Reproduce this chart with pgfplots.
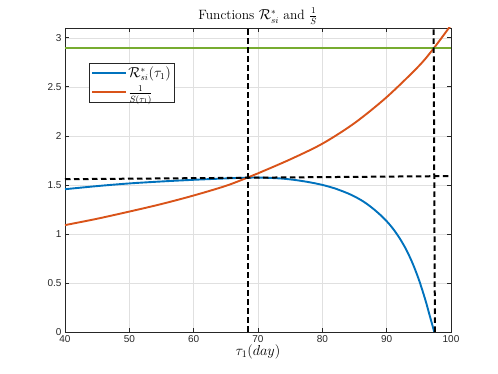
\documentclass[border=0pt]{standalone}
\usepackage{fontspec}
\setsansfont{Liberation Sans}
\usepackage{pgfplots}
\pgfplotsset{compat=1.18}

\definecolor{mblue}{rgb}{0,0.447,0.741}
\definecolor{morange}{rgb}{0.850,0.325,0.098}
\definecolor{mgreen}{rgb}{0.466,0.674,0.188}
\definecolor{mgrid}{rgb}{0.88,0.88,0.88}
\definecolor{maxis}{rgb}{0.15,0.15,0.15}

\begin{document}
\begin{tikzpicture}
\begin{axis}[
  at={(0,0)}, anchor=south west,
  scale only axis,
  width=386pt,
  height=304pt,
  xmin=40, xmax=100,
  ymin=0, ymax=3.1,
  xtick={40,50,...,100},
  ytick={0,0.5,1,1.5,2,2.5,3},
  grid=major,
  major grid style={mgrid, line width=0.6pt},
  axis line style={maxis, line width=0.7pt},
  tick style={maxis, line width=0.7pt},
  tick align=inside,
  major tick length=4pt,
  tick label style={font=\sffamily\fontsize{10}{12}\selectfont, text=maxis},
  /pgf/number format/assume math mode=true,
  title={Functions $\mathcal{R}^*_{si}$ and $\frac{1}{S}$},
  title style={font=\fontsize{13.5}{15}\selectfont, yshift=-6pt},
  xlabel={$\tau_1 (day)$},
  xlabel style={font=\fontsize{14}{16}\selectfont, yshift=5pt},
  legend style={at={(0.062,0.885)}, anchor=north west, draw=maxis,
    line width=0.7pt, font=\fontsize{13.5}{15}\selectfont, inner sep=2pt,
    row sep=4.5pt, nodes={inner sep=1.2pt}},
  legend cell align=left,
  legend image code/.code={
    \draw[mark repeat=2, mark phase=2, #1]
      plot coordinates {(0pt,0pt) (17pt,0pt) (34pt,0pt)};},
  clip=true
]
\addplot[mblue, line width=1.9pt, smooth] coordinates {
  (40,1.456) (45,1.488) (50,1.515) (55,1.535) (60,1.552) (65,1.566)
  (68.4,1.574) (70,1.575) (72,1.571) (74,1.563) (76,1.548) (78,1.527)
  (80,1.500) (82,1.463) (84,1.413) (85,1.382) (86,1.346) (87,1.303)
  (88,1.252) (89,1.195) (90,1.130) (91,1.052) (92,0.958) (93,0.845)
  (94,0.705) (95,0.535) (96,0.330) (96.7,0.165) (97.4,0.0)
};
\addlegendentry{$\mathcal{R}^*_{si}(\tau_1)$}
\addplot[morange, line width=1.9pt, smooth] coordinates {
  (40,1.090) (45,1.155) (50,1.228) (55,1.305) (60,1.392) (65,1.490)
  (68.4,1.575) (70,1.618) (75,1.760) (80,1.920) (85,2.130) (90,2.395)
  (95,2.712) (97.4,2.900) (100,3.130)
};
\addlegendentry{$\frac{1}{S(\tau_1)}$}
\addplot[mgreen, line width=1.9pt, forget plot] coordinates {(40,2.9) (100,2.9)};
\addplot[black, line width=2pt, dash pattern=on 5.5pt off 3.5pt, forget plot]
  coordinates {(68.4,0) (68.4,3.1)};
\addplot[black, line width=2pt, dash pattern=on 5.5pt off 3.5pt, forget plot]
  coordinates {(97.5,0) (97.3,3.1)};
\addplot[black, line width=2pt, dash pattern=on 5.5pt off 3.5pt, forget plot]
  coordinates {(40,1.558) (100,1.59)};
\end{axis}
\path[use as bounding box] (-65pt,-42pt) rectangle (433pt,332pt);
\end{tikzpicture}
\end{document}
